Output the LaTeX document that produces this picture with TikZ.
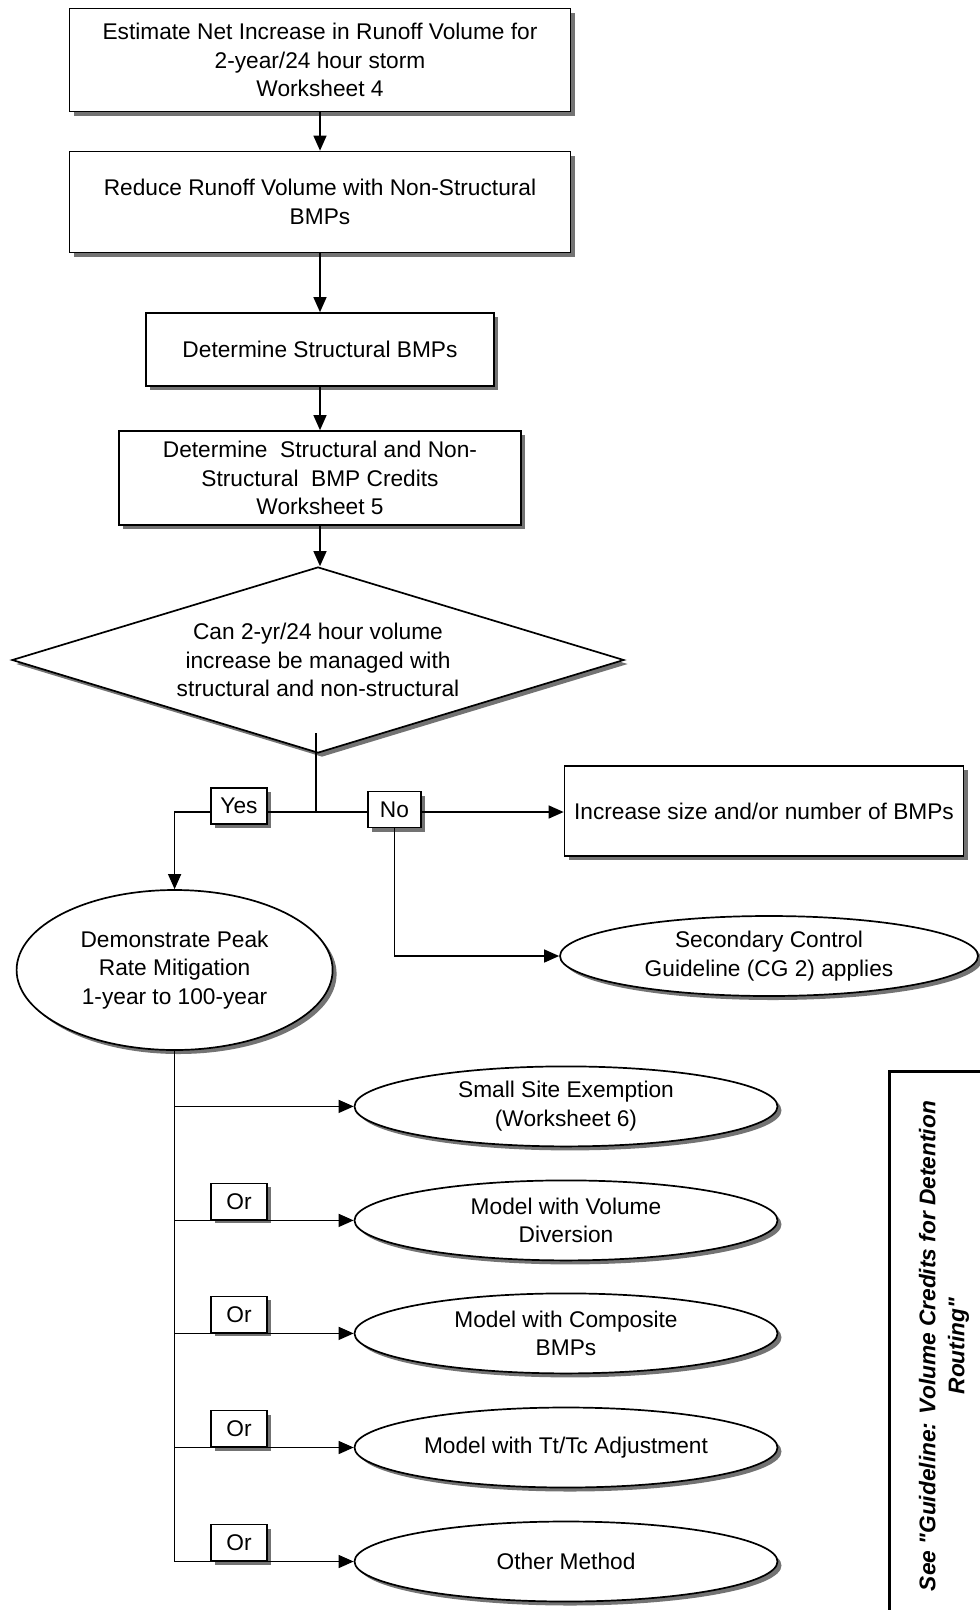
\documentclass[tikz,border=0pt]{standalone}
\usepackage{fontspec}
\setmainfont{Liberation Sans}
\usetikzlibrary{shapes,arrows.meta,positioning,calc,shadows}
\newcommand{\straightquote}{\XeTeXglyph\XeTeXcharglyph"22\relax}

\begin{document}
\begin{tikzpicture}[x=1pt, y=-1pt, >={Triangle[length=15pt,width=13pt]},
    every node/.style={font=\fontsize{22.7}{28.8}\selectfont, align=center, inner sep=0pt},
    boxshadow/.style={drop shadow={shadow xshift=4pt, shadow yshift=-4pt, fill=black!55, opacity=1}},
    stepbox/.style={draw, line width=1.7pt, fill=white, boxshadow},
    choice/.style={draw, diamond, aspect=3.3, line width=1.7pt, fill=white, boxshadow},
    result/.style={draw, ellipse, line width=1.7pt, fill=white, boxshadow},
    labelbox/.style={draw, line width=1.7pt, fill=white, boxshadow, minimum width=56pt, minimum height=36pt},
    notetext/.style={font=\fontsize{22.7}{28.8}\selectfont\bfseries\itshape},
    link/.style={line width=1.3pt}]
            \useasboundingbox (0,0) rectangle (980,1610);

            % Steps
            \node[stepbox, minimum width=501pt, minimum height=103pt] (est) at (320,60) {Estimate Net Increase in Runoff Volume for\\2-year/24 hour storm\\Worksheet 4};
            \node[stepbox, minimum width=501pt, minimum height=101pt] (red) at (320,202) {Reduce Runoff Volume with Non-Structural\\BMPs};
            \node[stepbox, minimum width=348pt, minimum height=73pt] (det) at (320,349.5) {Determine Structural BMPs};
            \node[stepbox, minimum width=402pt, minimum height=94pt] (cred) at (320,478) {Determine\ \ Structural and Non-\\Structural\ \ BMP Credits\\Worksheet 5};

            % Decision
            \node[choice, minimum width=612pt, minimum height=186pt] (dia) at (318,660) {Can 2-yr/24 hour volume\\increase be managed with\\structural and non-structural};
            \coordinate (stem) at (316,733);
            \coordinate (fork) at (316,812);
            \node[labelbox] (yes) at (239,806) {Yes};
            \node[labelbox, minimum width=53pt] (no) at (394.5,809.5) {No};
            \node[stepbox, minimum width=399pt, minimum height=90pt] (inc) at (764,811) {Increase size and/or number of BMPs};
            \node[result, minimum width=418pt, minimum height=80pt] (sec) at (769,956) {Secondary Control\\Guideline (CG 2) applies};
            \node[result, minimum width=316pt, minimum height=160pt] (dem) at (174.6,970) {Demonstrate Peak\\Rate Mitigation\\1-year to 100-year};

            % Methods
            \node[result, minimum width=423pt, minimum height=80pt] (site) at (566,1106.4) {Small Site Exemption\\(Worksheet 6)};
            \node[result, minimum width=423pt, minimum height=80pt] (div) at (566,1220.4) {Model with Volume\\Diversion};
            \node[result, minimum width=423pt, minimum height=80pt] (comp) at (566,1333.4) {Model with Composite\\BMPs};
            \node[result, minimum width=423pt, minimum height=80pt] (ttc) at (566,1447.5) {Model with Tt/Tc Adjustment};
            \node[result, minimum width=423pt, minimum height=80pt] (oth) at (566,1561.5) {Other Method};
            \node[labelbox] (or1) at (239,1201.4) {Or};
            \node[labelbox] (or2) at (239,1314.4) {Or};
            \node[labelbox] (or3) at (239,1428.5) {Or};
            \node[labelbox] (or4) at (239,1542.5) {Or};

            % Side note
            \node[notetext, rotate=90] (note) at (944,1346) {See \straightquote Guideline: Volume Credits for Detention\\Routing\straightquote};
            \draw[line width=3pt] (889.6,1620) |- (990,1071.5);

            % Arrows
            \draw[link,->] (est) -- (red);
            \draw[link,->] (red) -- (det);
            \draw[link,->] (det) -- (cred);
            \draw[link,->] (cred.south) -- (cred.south |- dia.north);
            \draw[link] (stem) -- (fork);
            \draw[link] (fork) -- (fork -| yes.east);
            \draw[link,->] (fork -| yes.west) -| (dem.north);
            \draw[link] (fork) -- (fork -| no.west);
            \draw[link,->] (fork -| no.east) -- (fork -| inc.west);
            \draw[link,->] (no.south) |- (sec.west);
            \draw[link] (dem.south) -- (dem.south |- oth.west);
            \draw[link,->] (dem.south |- site.west) -- (site.west);
            \draw[link,->] (dem.south |- div.west) -- (div.west);
            \draw[link,->] (dem.south |- comp.west) -- (comp.west);
            \draw[link,->] (dem.south |- ttc.west) -- (ttc.west);
            \draw[link,->] (dem.south |- oth.west) -- (oth.west);
        \end{tikzpicture}
\end{document}
